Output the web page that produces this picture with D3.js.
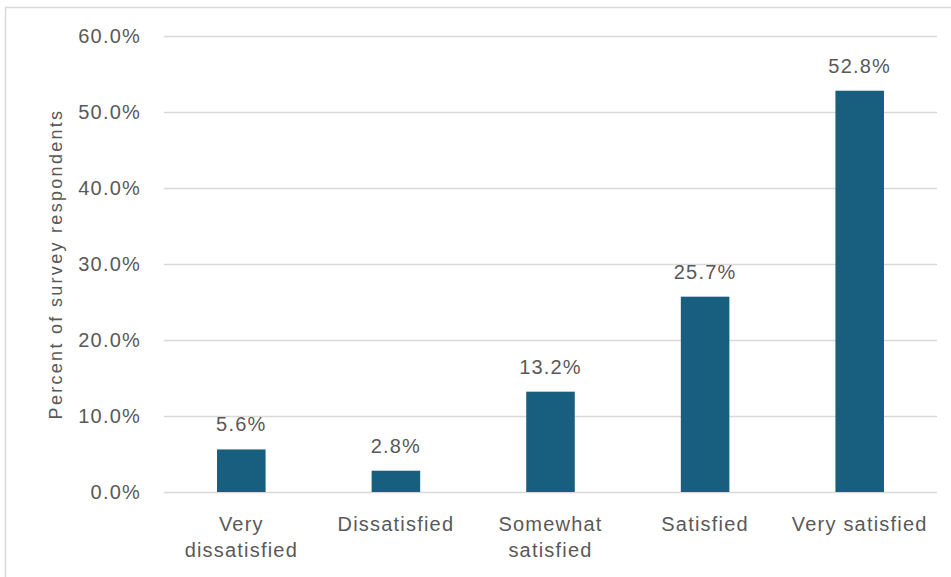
<!DOCTYPE html>
<html>
<head>
<meta charset="utf-8">
<script src="https://cdn.jsdelivr.net/npm/d3@7"></script>
<style>
  html, body { margin: 0; padding: 0; background: #fff; }
  svg { display: block; }
  text { font-family: "Liberation Sans", Arial, sans-serif; fill: #595959; }
</style>
</head>
<body>
<svg id="chart" width="951" height="577"></svg>
<script>
// Survey satisfaction responses
const categories = ["Very dissatisfied", "Dissatisfied", "Somewhat satisfied", "Satisfied", "Very satisfied"];
const categoryLines = [["Very", "dissatisfied"], ["Dissatisfied"], ["Somewhat", "satisfied"], ["Satisfied"], ["Very satisfied"]];
const percents = [5.6, 2.8, 13.2, 25.7, 52.8];
const yTicks = [0, 10, 20, 30, 40, 50, 60];
const yTitle = "Percent of survey respondents";

const svg = d3.select("#chart");
const W = 951, H = 577;
const margin = { left: 164, right: 14, top: 36, bottom: 85 };

// Chart frame
svg.append("rect")
  .attr("x", 5.5).attr("y", 7.5)
  .attr("width", W + 20).attr("height", H + 20)
  .attr("fill", "#fff")
  .attr("stroke", "#d9d9d9").attr("stroke-width", 1.5);

const x = d3.scaleBand()
  .domain(categories)
  .range([margin.left, W - margin.right])
  .paddingInner(0.686).paddingOuter(0.343);

const y = d3.scaleLinear()
  .domain([0, 60])
  .range([H - margin.bottom, margin.top]);

// Gridlines and value axis labels
const yAxis = d3.axisLeft(y)
  .tickValues(yTicks)
  .tickSize(-(W - margin.right - margin.left))
  .tickPadding(23)
  .tickFormat(d => d.toFixed(1) + "%");

const gy = svg.append("g")
  .attr("transform", `translate(${margin.left},0)`)
  .call(yAxis);
gy.select(".domain").remove();
gy.selectAll(".tick line").attr("stroke", "#d9d9d9").attr("stroke-width", 1.5);
gy.selectAll(".tick text")
  .attr("fill", "#595959")
  .style("font-size", "20px")
  .style("letter-spacing", "1.2px")
  .style("font-family", "'Liberation Sans', Arial, sans-serif");

// Bars
svg.append("g").selectAll("rect")
  .data(categories)
  .join("rect")
  .attr("x", d => x(d))
  .attr("width", x.bandwidth())
  .attr("y", (d, i) => y(percents[i]))
  .attr("height", (d, i) => y(0) - y(percents[i]))
  .attr("fill", "#175e7f");

// Value labels
svg.append("g").selectAll("text")
  .data(categories)
  .join("text")
  .attr("x", d => x(d) + x.bandwidth() / 2)
  .attr("y", (d, i) => y(percents[i]) - 18)
  .attr("text-anchor", "middle")
  .style("font-size", "20px")
  .style("letter-spacing", "1.2px")
  .text((d, i) => percents[i].toFixed(1) + "%");

// Category labels
const cat = svg.append("g").selectAll("text")
  .data(categories)
  .join("text")
  .attr("x", d => x(d) + x.bandwidth() / 2)
  .attr("y", 531)
  .attr("text-anchor", "middle")
  .style("font-size", "20px")
  .style("letter-spacing", "1.2px");
cat.each(function(d, i) {
  const t = d3.select(this);
  categoryLines[i].forEach((line, j) => {
    t.append("tspan")
      .attr("x", x(d) + x.bandwidth() / 2)
      .attr("dy", j === 0 ? 0 : 25.5)
      .text(line);
  });
});

// Axis title
svg.append("text")
  .attr("transform", `translate(62,${(y(0) + y(60)) / 2}) rotate(-90)`)
  .attr("text-anchor", "middle")
  .style("font-size", "18px")
  .style("letter-spacing", "2.3px")
  .text(yTitle);
</script>
</body>
</html>
